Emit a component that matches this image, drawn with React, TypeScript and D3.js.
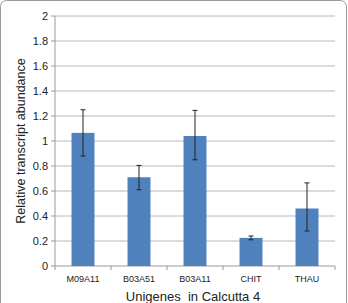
import { scaleBand, scaleLinear, range } from 'd3';

const categories = ['M09A11', 'B03A51', 'B03A11', 'CHIT', 'THAU'];
const values = [1.065, 0.71, 1.04, 0.225, 0.46];
const errLow = [0.88, 0.61, 0.85, 0.21, 0.28];
const errHigh = [1.25, 0.805, 1.245, 0.24, 0.665];
const yTicks = [0, 0.2, 0.4, 0.6, 0.8, 1, 1.2, 1.4, 1.6, 1.8, 2];

const W = 348;
const H = 303;
const m = { top: 16, right: 13, bottom: 37, left: 55 };

export default function App() {
  const w = W - m.left - m.right;
  const h = H - m.top - m.bottom;
  const xs = scaleBand<string>().domain(categories).range([0, w]).paddingInner(0.59).paddingOuter(0.295);
  const ys = scaleLinear().domain([0, 2]).range([h, 0]);
  const band = w / categories.length;
  const font = 'Liberation Sans, Arial, sans-serif';

  return (
    <svg width={W} height={H} viewBox={`0 0 ${W} ${H}`} style={{ position: 'absolute', left: 0, top: 0, background: '#fff' }} fontFamily={font}>
      <rect x={0.5} y={0.5} width={W - 2} height={H + 10} rx={6} fill="#fff" stroke="#9a9a9a" strokeWidth={1} />
      <g transform={`translate(${m.left},${m.top})`}>
        {yTicks.map((t) => (
          <g key={t}>
            {t > 0 && <line x1={0} x2={w} y1={ys(t)} y2={ys(t)} stroke="#b8b8b8" strokeWidth={1} />}
            <line x1={-4} x2={0} y1={ys(t)} y2={ys(t)} stroke="#9a9a9a" strokeWidth={1} />
            <text x={-7} y={ys(t)} dy="0.35em" textAnchor="end" fill="#222" style={{ fontSize: 11 }}>
              {t}
            </text>
          </g>
        ))}
        <line x1={0} x2={0} y1={0} y2={h} stroke="#9a9a9a" strokeWidth={1} />
        <line x1={0} x2={w} y1={h} y2={h} stroke="#9a9a9a" strokeWidth={1} />
        {range(categories.length + 1).map((i) => (
          <line key={i} x1={i * band} x2={i * band} y1={h} y2={h + 4} stroke="#9a9a9a" strokeWidth={1} />
        ))}
        {categories.map((c, i) => {
          const x = xs(c)!;
          const cx = x + xs.bandwidth() / 2;
          return (
            <g key={c}>
              <rect x={x} y={ys(values[i])} width={xs.bandwidth()} height={h - ys(values[i])} fill="#4f81bd" />
              <line x1={cx} x2={cx} y1={ys(errHigh[i])} y2={ys(errLow[i])} stroke="#222" strokeWidth={1} />
              <line x1={cx - 2.5} x2={cx + 2.5} y1={ys(errHigh[i])} y2={ys(errHigh[i])} stroke="#222" strokeWidth={1} />
              <line x1={cx - 2.5} x2={cx + 2.5} y1={ys(errLow[i])} y2={ys(errLow[i])} stroke="#222" strokeWidth={1} />
              <text x={cx} y={h + 16} textAnchor="middle" fill="#222" style={{ fontSize: 9 }}>
                {c}
              </text>
            </g>
          );
        })}
        <text x={w / 2 - 2} y={h + 35} textAnchor="middle" fill="#222" style={{ fontSize: 13, whiteSpace: 'pre' }}>
          {'Unigenes  in Calcutta 4'}
        </text>
      </g>
      <text transform={`translate(25,141) rotate(-90)`} textAnchor="middle" fill="#222" style={{ fontSize: 12.5 }}>
        Relative transcript abundance
      </text>
    </svg>
  );
}
